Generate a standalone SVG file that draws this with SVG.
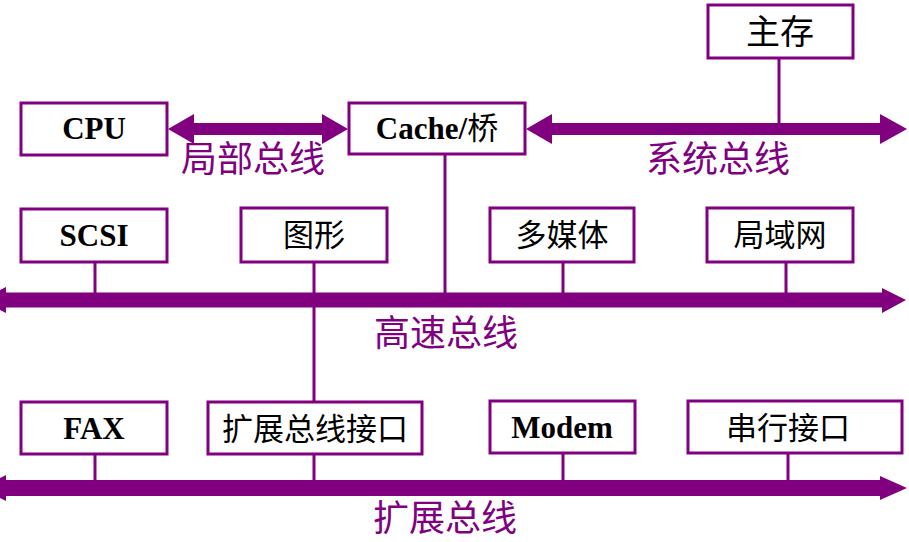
<svg xmlns="http://www.w3.org/2000/svg" width="909" height="542" viewBox="0 0 909 542">
<style>
.box{fill:#fff;stroke:#800080;stroke-width:3}
.lat{font-family:"Liberation Serif","Noto Sans CJK SC",serif;font-weight:bold;font-size:31px;fill:#000;text-anchor:middle}
.cjk{font-family:"Noto Sans CJK SC",sans-serif;font-size:31px;fill:#000;text-anchor:middle}
.lbl{font-family:"Noto Sans CJK SC",sans-serif;font-size:36px;fill:#800080;text-anchor:middle}
.wire{stroke:#800080;stroke-width:3;fill:none}
.bus{fill:#800080}
</style>
<g id="connectors">
<line class="wire" x1="779" y1="58" x2="779" y2="125"/>
<line class="wire" x1="445" y1="154" x2="445" y2="295"/>
<line class="wire" x1="95" y1="262" x2="95" y2="295"/>
<line class="wire" x1="314" y1="262" x2="314" y2="402"/>
<line class="wire" x1="563" y1="262" x2="563" y2="295"/>
<line class="wire" x1="786" y1="262" x2="786" y2="295"/>
<line class="wire" x1="95" y1="454" x2="95" y2="482"/>
<line class="wire" x1="314" y1="454" x2="314" y2="482"/>
<line class="wire" x1="563" y1="453" x2="563" y2="482"/>
<line class="wire" x1="788" y1="453" x2="788" y2="482"/>
<path id="local-bus" class="bus" d="M168,129 L194,114 L194,123 L322,123 L322,114 L348,129 L322,144 L322,135 L194,135 L194,144 Z"/>
<path id="system-bus" class="bus" d="M526,129 L552,114 L552,123 L880,123 L880,114 L907,129 L880,144 L880,135 L552,135 L552,144 Z"/>
<path id="high-speed-bus" class="bus" d="M-20,300 L6,287 L6,292.5 L882,292.5 L882,288 L906,300 L882,313 L882,307.5 L6,307.5 L6,313 Z"/>
<path id="expansion-bus" class="bus" d="M-20,488 L6,475 L6,480 L880,480 L880,476 L907,488 L880,500 L880,496 L6,496 L6,501 Z"/>
<text class="lbl" x="253" y="172">局部总线</text>
<text class="lbl" x="718" y="172">系统总线</text>
<text class="lbl" x="446" y="346">高速总线</text>
<text class="lbl" x="445" y="531">扩展总线</text>
</g>
<g id="main-memory"><rect class="box" x="708" y="5" width="145" height="53"/><text class="cjk" x="780" y="44" style="font-size:34px">主存</text></g>
<g id="cpu"><rect class="box" x="21" y="103" width="146" height="52"/><text class="lat" x="94" y="139">CPU</text></g>
<g id="cache"><rect class="box" x="349" y="103" width="176" height="51"/><text class="lat" x="437" y="139">Cache/<tspan style="font-family:'Noto Sans CJK SC',sans-serif;font-weight:normal">桥</tspan></text></g>
<g id="scsi"><rect class="box" x="21" y="209" width="146" height="53"/><text class="lat" x="94" y="246">SCSI</text></g>
<g id="graphics"><rect class="box" x="241" y="208" width="146" height="54"/><text class="cjk" x="314" y="246">图形</text></g>
<g id="multimedia"><rect class="box" x="490" y="208" width="144" height="54"/><text class="cjk" x="562" y="246">多媒体</text></g>
<g id="lan"><rect class="box" x="707" y="208" width="146" height="54"/><text class="cjk" x="780" y="246">局域网</text></g>
<g id="fax"><rect class="box" x="21" y="402" width="146" height="52"/><text class="lat" x="94" y="439">FAX</text></g>
<g id="expansion-interface"><rect class="box" x="208" y="402" width="214" height="52"/><text class="cjk" x="315" y="440">扩展总线接口</text></g>
<g id="modem"><rect class="box" x="490" y="401" width="145" height="52"/><text class="lat" x="562" y="438">Modem</text></g>
<g id="serial"><rect class="box" x="688" y="401" width="214" height="52"/><text class="cjk" x="788" y="439">串行接口</text></g>
</svg>
